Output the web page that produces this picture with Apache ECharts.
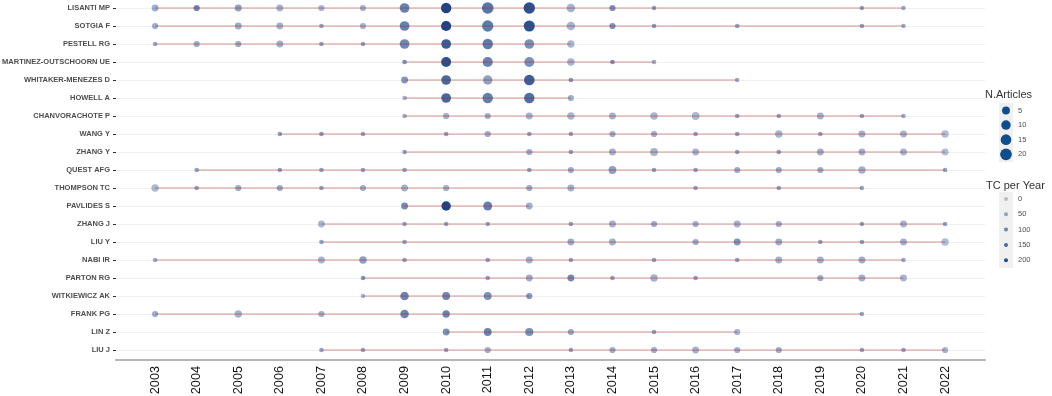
<!DOCTYPE html>
<html>
<head>
<meta charset="utf-8">
<script src="https://cdn.jsdelivr.net/npm/echarts@6/dist/echarts.min.js"></script>
<style>
html, body { margin: 0; padding: 0; background: #fff; }
#main { width: 1052px; height: 396px; }
</style>
</head>
<body>
<div id="main"></div>
<script>
var authors = ["LISANTI MP", "SOTGIA F", "PESTELL RG", "MARTINEZ-OUTSCHOORN UE", "WHITAKER-MENEZES D",
    "HOWELL A", "CHANVORACHOTE P", "WANG Y", "ZHANG Y", "QUEST AFG", "THOMPSON TC", "PAVLIDES S",
    "ZHANG J", "LIU Y", "NABI IR", "PARTON RG", "WITKIEWICZ AK", "FRANK PG", "LIN Z", "LIU J"];
var years = [2003, 2004, 2005, 2006, 2007, 2008, 2009, 2010, 2011, 2012,
    2013, 2014, 2015, 2016, 2017, 2018, 2019, 2020, 2021, 2022];

// [year, N.Articles, TC per Year]
var lisanti = [[2003,3,40],[2004,2,100],[2005,3,60],[2006,3,30],[2007,2,25],[2008,2,30],[2009,11,110],[2010,14,210],[2011,20,130],[2012,19,190],[2013,7,30],[2014,2,80],[2015,1,60],[2020,1,50],[2021,1,40]];
var sotgia = [[2003,2,40],[2005,3,40],[2006,3,30],[2007,1,50],[2008,2,30],[2009,11,110],[2010,13,210],[2011,18,120],[2012,17,190],[2013,7,30],[2014,2,80],[2015,1,60],[2017,1,50],[2020,1,50],[2021,1,40]];
var pestell = [[2003,1,45],[2004,2,40],[2005,2,45],[2006,3,35],[2007,1,55],[2008,1,55],[2009,11,100],[2010,11,170],[2011,14,120],[2012,11,85],[2013,4,25]];
var martinez = [[2009,1,80],[2010,12,190],[2011,13,110],[2012,12,85],[2013,4,30],[2014,1,80],[2015,1,45]];
var whitaker = [[2009,3,75],[2010,11,150],[2011,10,60],[2012,15,165],[2013,1,70],[2017,1,40]];
var howell = [[2009,1,35],[2010,11,150],[2011,14,115],[2012,14,140],[2013,2,35]];
var chanvorachote = [[2009,1,40],[2010,2,35],[2011,2,35],[2012,3,30],[2013,4,25],[2014,3,30],[2015,4,25],[2016,5,20],[2017,1,50],[2018,1,50],[2019,3,30],[2020,1,50],[2021,1,40]];
var wangY = [[2006,1,60],[2007,1,60],[2008,1,55],[2010,1,55],[2011,2,40],[2012,1,55],[2013,1,55],[2014,2,40],[2015,2,40],[2016,1,55],[2017,1,55],[2018,4,30],[2019,1,55],[2020,3,35],[2021,3,30],[2022,4,15]];
var zhangY = [[2009,1,60],[2012,2,40],[2013,1,55],[2014,3,35],[2015,5,30],[2016,3,30],[2017,1,55],[2018,1,55],[2019,3,35],[2020,3,35],[2021,3,30],[2022,3,15]];
var quest = [[2004,1,55],[2006,1,55],[2007,1,55],[2008,1,55],[2009,1,55],[2012,1,55],[2013,2,40],[2014,5,60],[2015,1,55],[2016,1,55],[2017,2,40],[2018,2,40],[2019,2,40],[2020,4,35],[2022,1,55]];
var thompson = [[2003,4,20],[2004,1,50],[2005,2,40],[2006,2,40],[2007,1,50],[2008,2,35],[2009,3,30],[2010,2,35],[2012,2,40],[2013,3,35],[2016,1,50],[2018,1,50],[2020,1,50]];
var pavlides = [[2009,3,95],[2010,10,210],[2011,8,115],[2012,3,35]];
var zhangJ = [[2007,3,25],[2009,1,50],[2010,1,50],[2011,1,50],[2013,1,55],[2014,3,35],[2015,2,40],[2016,2,35],[2017,3,35],[2018,2,35],[2020,1,55],[2021,3,30],[2022,1,55]];
var liuY = [[2007,1,50],[2009,1,50],[2013,3,40],[2014,3,35],[2016,2,40],[2017,3,75],[2018,3,40],[2019,1,55],[2020,1,55],[2021,3,35],[2022,4,15]];
var nabi = [[2003,1,40],[2007,3,30],[2008,4,60],[2009,1,55],[2011,1,55],[2012,3,35],[2013,1,55],[2015,1,55],[2017,1,55],[2018,3,35],[2019,3,35],[2020,3,40],[2021,1,45]];
var parton = [[2008,1,75],[2011,1,55],[2012,3,40],[2013,3,95],[2014,1,55],[2015,4,30],[2016,1,55],[2019,2,40],[2020,3,35],[2021,3,25]];
var witkiewicz = [[2008,1,30],[2009,7,105],[2010,5,105],[2011,5,85],[2012,2,75]];
var frank = [[2003,2,40],[2005,4,30],[2007,2,35],[2009,7,105],[2010,4,105],[2020,1,45]];
var linZ = [[2010,3,85],[2011,5,105],[2012,6,85],[2013,2,45],[2015,1,55],[2017,2,30]];
var liuJ = [[2007,1,50],[2008,1,50],[2010,1,50],[2011,2,35],[2013,1,55],[2014,2,40],[2015,2,40],[2016,3,30],[2017,2,35],[2018,2,40],[2020,1,50],[2021,1,50],[2022,2,30]];

var rows = [lisanti, sotgia, pestell, martinez, whitaker, howell, chanvorachote, wangY, zhangY, quest,
    thompson, pavlides, zhangJ, liuY, nabi, parton, witkiewicz, frank, linZ, liuJ];

var sizeBreaks = [5, 10, 15, 20];
var tcBreaks = [0, 50, 100, 150, 200];
var maxArticles = 23;
var maxTc = 210;
var dotColor = '#1a4488';

function dotSize(n) {
    return 4.6 + 7.6 * Math.sqrt((n - 1) / (maxArticles - 1));
}
function tcAlpha(v) {
    return 0.3 + 0.7 * Math.min(v / maxTc, 1);
}

var points = [];
var spans = [];
for (var i = 0; i < rows.length; i++) {
    for (var j = 0; j < rows[i].length; j++) {
        points.push([rows[i][j][0], authors[i], rows[i][j][1], rows[i][j][2]]);
    }
    spans.push([i, rows[i][0][0], rows[i][rows[i].length - 1][0]]);
}

// legend (drawn by hand, ggplot style)
var legend = [];
legend.push({ type: 'text', left: 985, top: 89, style: { text: 'N.Articles', fontSize: 11, fill: '#333', fontFamily: 'Liberation Sans' } });
legend.push({ type: 'rect', shape: { x: 999, y: 103, width: 14, height: 59 }, style: { fill: '#f0f0f0' } });
for (var k = 0; k < sizeBreaks.length; k++) {
    var cy = 110.5 + k * 14.6;
    legend.push({ type: 'circle', shape: { cx: 1006, cy: cy, r: dotSize(sizeBreaks[k]) / 2 }, style: { fill: '#104E8B' } });
    legend.push({ type: 'text', x: 1018, y: cy, style: { text: String(sizeBreaks[k]), fontSize: 7.5, fill: '#4d4d4d', verticalAlign: 'middle', fontFamily: 'Liberation Sans' } });
}
legend.push({ type: 'text', left: 986, top: 180, style: { text: 'TC per Year', fontSize: 11, fill: '#333', fontFamily: 'Liberation Sans' } });
legend.push({ type: 'rect', shape: { x: 999, y: 192, width: 14, height: 76 }, style: { fill: '#f0f0f0' } });
for (var m = 0; m < tcBreaks.length; m++) {
    var ty = 199 + m * 15.3;
    legend.push({ type: 'circle', shape: { cx: 1006, cy: ty, r: 2 }, style: { fill: '#104E8B', opacity: tcAlpha(tcBreaks[m]) } });
    legend.push({ type: 'text', x: 1018, y: ty, style: { text: String(tcBreaks[m]), fontSize: 7.5, fill: '#4d4d4d', verticalAlign: 'middle', fontFamily: 'Liberation Sans' } });
}

var myChart = echarts.init(document.getElementById('main'));

var option = {
    animation: false,
    textStyle: { fontFamily: 'Liberation Sans' },
    grid: { left: 116, right: 67, top: 8, height: 342, containLabel: false, outerBoundsMode: 'none' },
    xAxis: {
        type: 'value',
        min: 2002.06,
        max: 2022.96,
        offset: 10,
        axisLine: { show: true, lineStyle: { color: '#b5b5b5', width: 2 } },
        axisTick: { show: false },
        splitLine: { show: false },
        axisLabel: {
            customValues: years,
            rotate: 90,
            margin: 6,
            fontSize: 12.7,
            color: '#111',
            formatter: function (v) { return String(v); }
        }
    },
    yAxis: {
        type: 'category',
        data: authors,
        inverse: true,
        boundaryGap: false,
        axisLine: { show: false },
        axisTick: { show: true, length: 3, lineStyle: { color: '#333' } },
        axisLabel: { fontSize: 7.5, fontWeight: 'bold', color: '#4d4d4d', margin: 6 },
        splitLine: { show: true, lineStyle: { color: '#f0f0f0', width: 1 } }
    },
    visualMap: [{
        show: false,
        type: 'continuous',
        seriesIndex: 0,
        dimension: 3,
        min: 0,
        max: maxTc,
        inRange: { opacity: [0.3, 1] }
    }],
    series: [{
        type: 'scatter',
        data: points,
        encode: { x: 0, y: 1 },
        z: 2,
        symbol: 'circle',
        symbolSize: function (v) { return dotSize(v[2]); },
        itemStyle: { color: dotColor }
    }, {
        type: 'custom',
        data: spans,
        encode: { x: [1, 2], y: 0 },
        z: 3,
        silent: true,
        renderItem: function (params, api) {
            var a = api.coord([api.value(1), api.value(0)]);
            var b = api.coord([api.value(2), api.value(0)]);
            return {
                type: 'line',
                shape: { x1: a[0], y1: a[1], x2: b[0], y2: b[1] },
                style: { stroke: 'rgba(178,34,34,0.32)', lineWidth: 1.7 }
            };
        }
    }],
    graphic: legend
};

myChart.setOption(option);
</script>
</body>
</html>
